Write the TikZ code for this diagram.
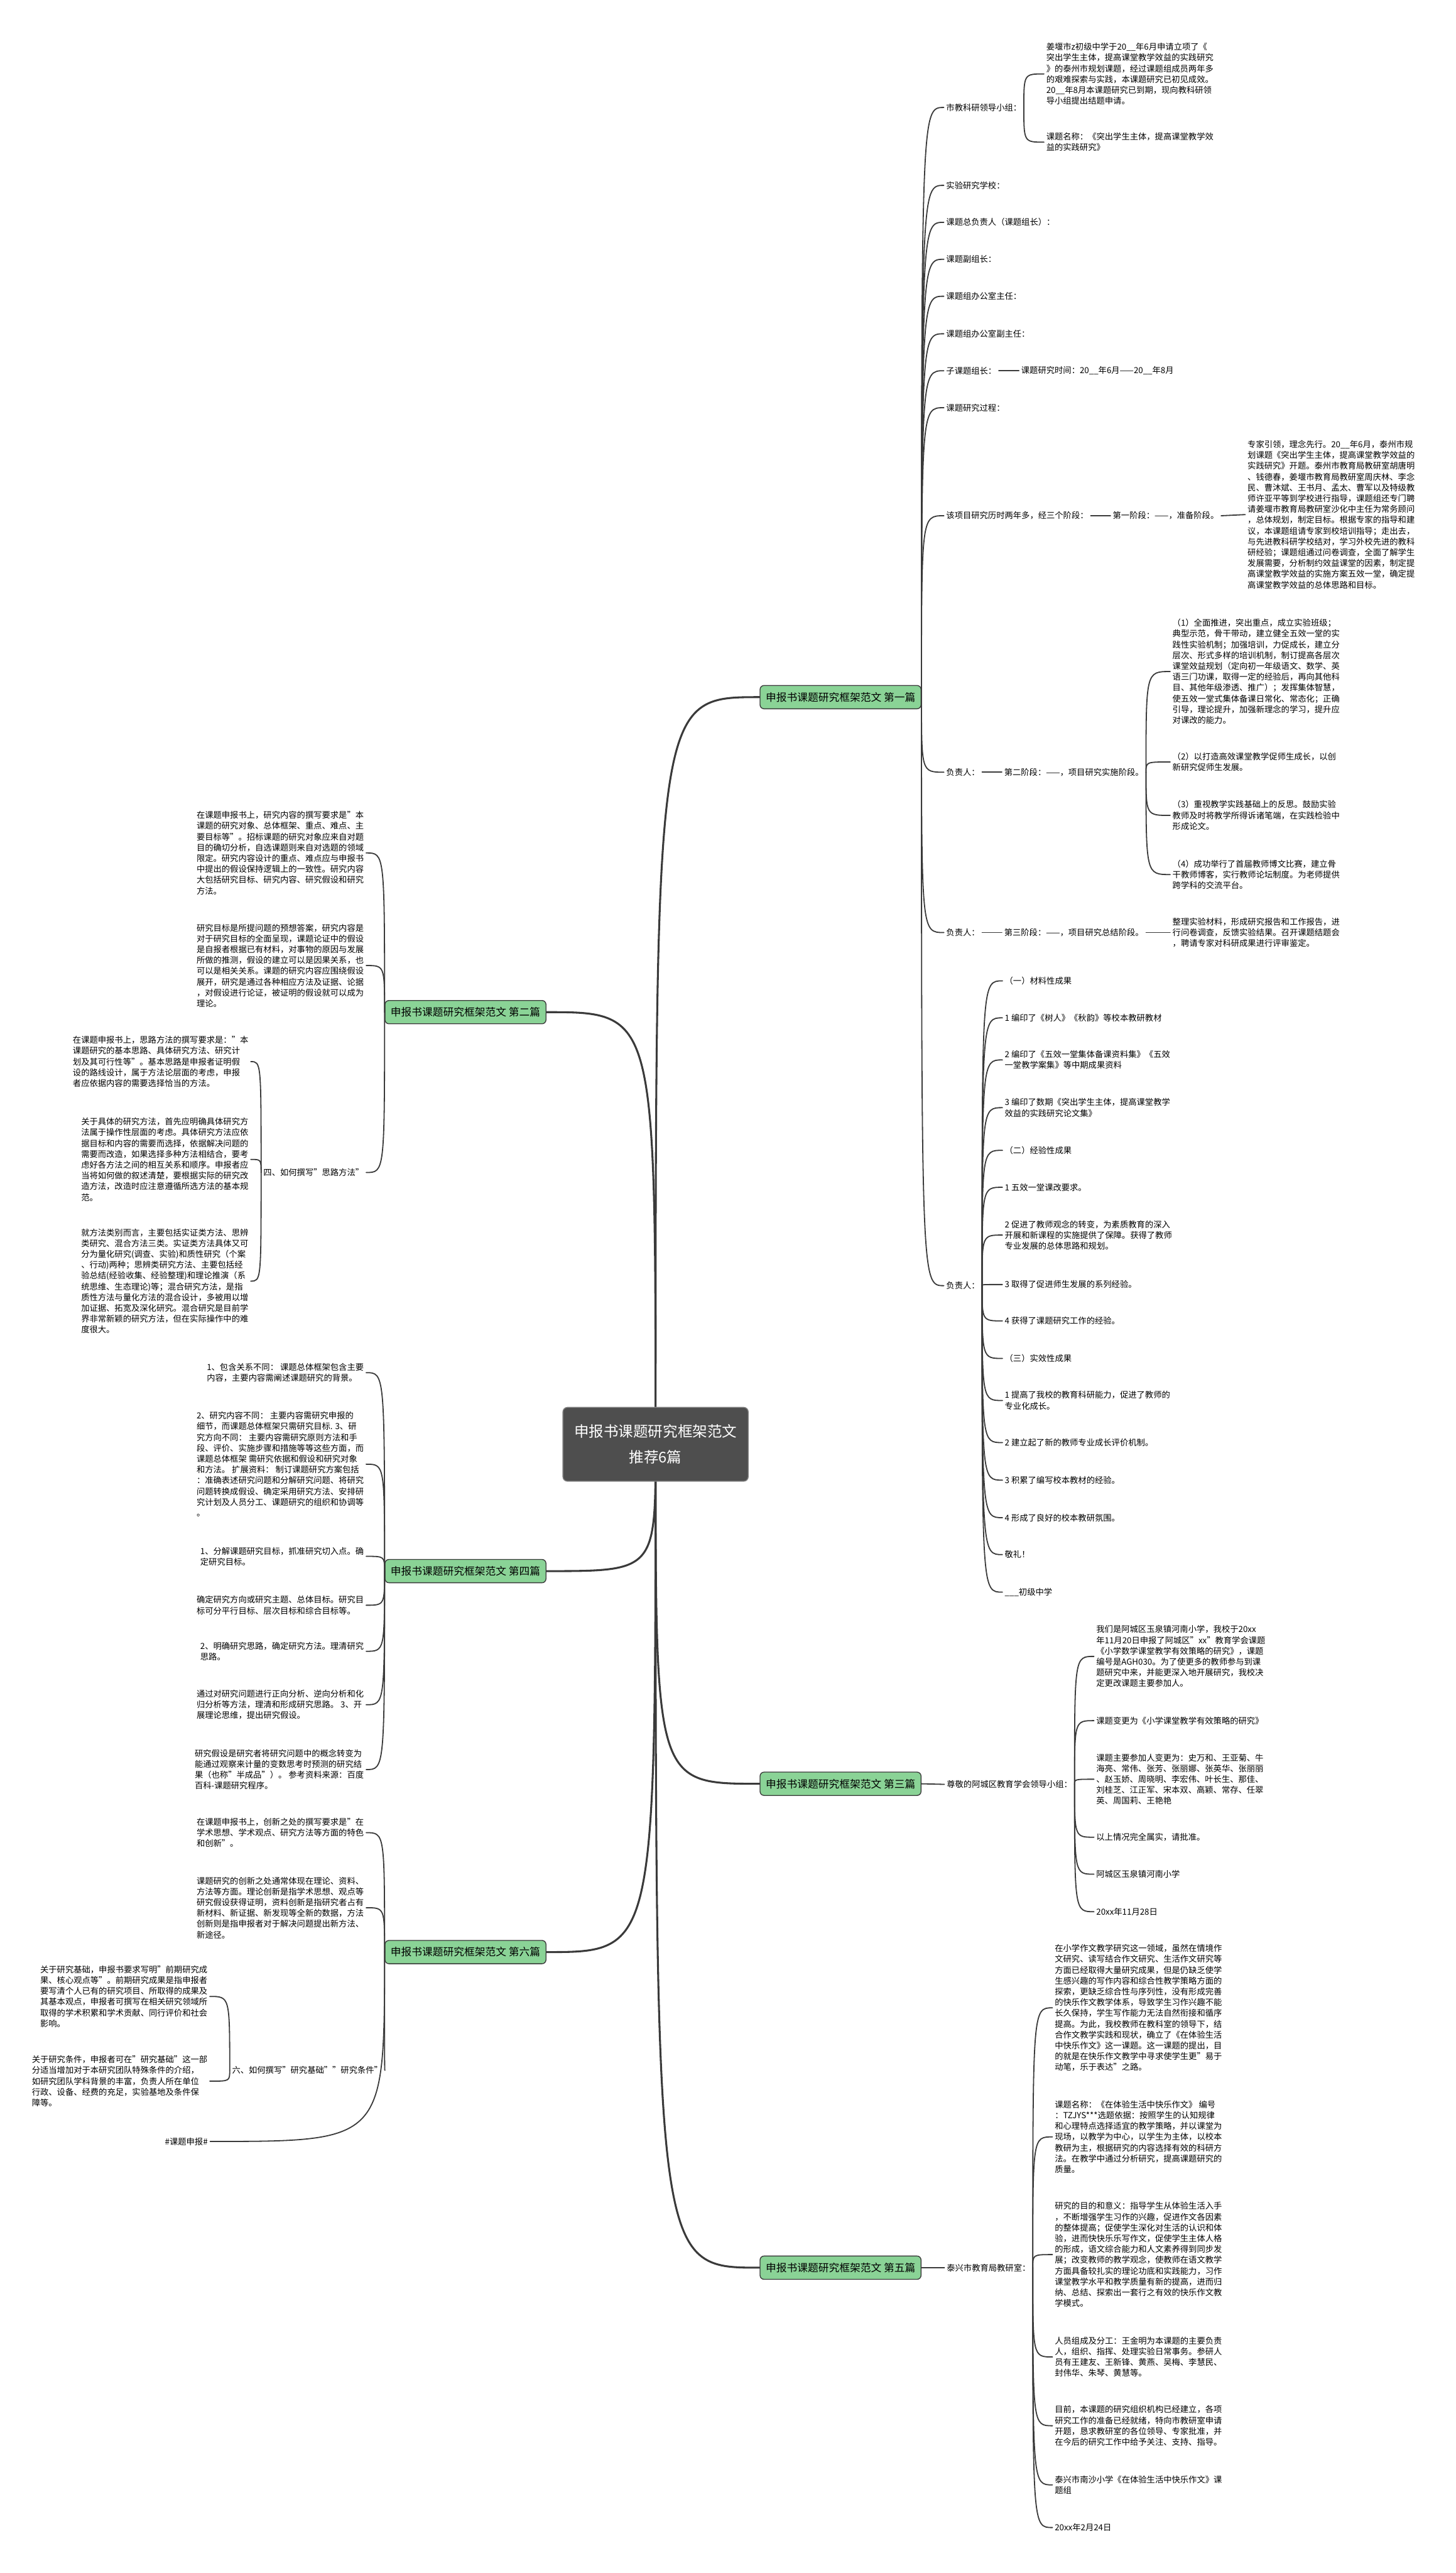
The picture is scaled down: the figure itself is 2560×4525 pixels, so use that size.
\documentclass[tikz,border=0pt]{standalone}
\usepackage{fontspec}
\setmainfont{Noto Sans CJK SC}
\usetikzlibrary{backgrounds}
\definecolor{linegray}{HTML}{3A3A3A}
\definecolor{rootgray}{HTML}{4E4E4E}
\definecolor{leafgreen}{HTML}{8AD396}

\begin{document}
\begin{tikzpicture}[x=1pt, y=-1pt,
    txt/.style={inner xsep=4pt, inner ysep=1pt, align=left, font=\fontsize{14.7}{19}\selectfont},
    branch/.style={draw=linegray, line width=1.5pt, fill=leafgreen, rounded corners=7pt, minimum height=41pt, inner xsep=10pt, font=\fontsize{18.5}{22}\selectfont},
    rootbox/.style={draw=rootgray!70!white, line width=1.5pt, fill=rootgray, text=white, rounded corners=8pt, minimum width=326pt, minimum height=130pt, align=center, font=\fontsize{26}{45}\selectfont},
    mainlink/.style={draw=linegray, line width=3.4pt, line cap=round},
    sublink/.style={draw=linegray, line width=2pt, line cap=round},
    curve/.style={to path={.. controls (\tikztotarget -| \tikztostart) .. (\tikztotarget)}}]
    \useasboundingbox (0,0) rectangle (2560,4525);

    \node (root) [rootbox] at (1153,2540) {申报书课题研究框架范文\\推荐6篇};

    \node (p1) [branch, anchor=west] at (1336,1226) {申报书课题研究框架范文 第一篇};
    \node (p1a) [txt, anchor=west] at (1660,189) {市教科研领导小组：};
    \node (p1a1) [txt, anchor=west] at (1836,130) {姜堰市z初级中学于20\_\_年6月申请立项了《\\突出学生主体，提高课堂教学效益的实践研究\\》的泰州市规划课题，经过课题组成员两年多\\的艰难探索与实践，本课题研究已初见成效。\\20\_\_年8月本课题研究已到期，现向教科研领\\导小组提出结题申请。};
    \node (p1a2) [txt, anchor=west] at (1836,250) {课题名称：《突出学生主体，提高课堂教学效\\益的实践研究》};
    \node (p1b) [txt, anchor=west] at (1660,326) {实验研究学校：};
    \node (p1c) [txt, anchor=west] at (1660,391) {课题总负责人（课题组长）：};
    \node (p1d) [txt, anchor=west] at (1660,456) {课题副组长：};
    \node (p1e) [txt, anchor=west] at (1660,521) {课题组办公室主任：};
    \node (p1f) [txt, anchor=west] at (1660,587) {课题组办公室副主任：};
    \node (p1g) [txt, anchor=west] at (1660,652) {子课题组长：};
    \node (p1g1) [txt, anchor=west] at (1792,652) {课题研究时间：20\_\_年6月——20\_\_年8月};
    \node (p1h) [txt, anchor=west] at (1660,717) {课题研究过程：};
    \node (p1i) [txt, anchor=west] at (1660,907) {该项目研究历时两年多，经三个阶段：};
    \node (p1i1) [txt, anchor=west] at (1953,907) {第一阶段：——，准备阶段。};
    \node (p1i2) [txt, anchor=west] at (2190,905) {专家引领，理念先行。20\_\_年6月，泰州市规\\划课题《突出学生主体，提高课堂教学效益的\\实践研究》开题。泰州市教育局教研室胡唐明\\、钱德春，姜堰市教育局教研室周庆林、李念\\民、曹沐斌、王书月、孟太、曹军以及特级教\\师许亚平等到学校进行指导，课题组还专门聘\\请姜堰市教育局教研室沙化中主任为常务顾问\\，总体规划，制定目标。根据专家的指导和建\\议，本课题组请专家到校培训指导；走出去，\\与先进教科研学校结对，学习外校先进的教科\\研经验；课题组通过问卷调查，全面了解学生\\发展需要，分析制约效益课堂的因素，制定提\\高课堂教学效益的实施方案五效一堂，确定提\\高课堂教学效益的总体思路和目标。};
    \node (p1j) [txt, anchor=west] at (1660,1358) {负责人：};
    \node (p1j1) [txt, anchor=west] at (1762,1358) {第二阶段：——，项目研究实施阶段。};
    \node (p1j2) [txt, anchor=west] at (2058,1181) {（1）全面推进，突出重点，成立实验班级；\\典型示范，骨干带动，建立健全五效一堂的实\\践性实验机制；加强培训，力促成长，建立分\\层次、形式多样的培训机制，制订提高各层次\\课堂效益规划（定向初一年级语文、数学、英\\语三门功课，取得一定的经验后，再向其他科\\目、其他年级渗透、推广）；发挥集体智慧，\\使五效一堂式集体备课日常化、常态化；正确\\引导，理论提升，加强新理念的学习，提升应\\对课改的能力。};
    \node (p1j3) [txt, anchor=west] at (2058,1340) {（2）以打造高效课堂教学促师生成长，以创\\新研究促师生发展。};
    \node (p1j4) [txt, anchor=west] at (2058,1434) {（3）重视教学实践基础上的反思。鼓励实验\\教师及时将教学所得诉诸笔端，在实践检验中\\形成论文。};
    \node (p1j5) [txt, anchor=west] at (2058,1538) {（4）成功举行了首届教师博文比赛，建立骨\\干教师博客，实行教师论坛制度。为老师提供\\跨学科的交流平台。};
    \node (p1k) [txt, anchor=west] at (1660,1640) {负责人：};
    \node (p1k1) [txt, anchor=west] at (1762,1640) {第三阶段：——，项目研究总结阶段。};
    \node (p1k2) [txt, anchor=west] at (2058,1640) {整理实验材料，形成研究报告和工作报告，进\\行问卷调查，反馈实验结果。召开课题结题会\\，聘请专家对科研成果进行评审鉴定。};
    \node (p1l) [txt, anchor=west] at (1660,2261) {负责人：};
    \node (r1) [txt, anchor=west] at (1763,1725) {（一）材料性成果};
    \node (r2) [txt, anchor=west] at (1763,1790) {1 编印了《树人》《秋韵》等校本教研教材};
    \node (r3) [txt, anchor=west] at (1763,1864) {2 编印了《五效一堂集体备课资料集》《五效\\一堂教学案集》等中期成果资料};
    \node (r4) [txt, anchor=west] at (1763,1948) {3 编印了数期《突出学生主体，提高课堂教学\\效益的实践研究论文集》};
    \node (r5) [txt, anchor=west] at (1763,2023) {（二）经验性成果};
    \node (r6) [txt, anchor=west] at (1763,2088) {1 五效一堂课改要求。};
    \node (r7) [txt, anchor=west] at (1763,2172) {2 促进了教师观念的转变，为素质教育的深入\\开展和新课程的实施提供了保障。获得了教师\\专业发展的总体思路和规划。};
    \node (r8) [txt, anchor=west] at (1763,2259) {3 取得了促进师生发展的系列经验。};
    \node (r9) [txt, anchor=west] at (1763,2323) {4 获得了课题研究工作的经验。};
    \node (r10) [txt, anchor=west] at (1763,2389) {（三）实效性成果};
    \node (r11) [txt, anchor=west] at (1763,2463) {1 提高了我校的教育科研能力，促进了教师的\\专业化成长。};
    \node (r12) [txt, anchor=west] at (1763,2537) {2 建立起了新的教师专业成长评价机制。};
    \node (r13) [txt, anchor=west] at (1763,2603) {3 积累了编写校本教材的经验。};
    \node (r14) [txt, anchor=west] at (1763,2669) {4 形成了良好的校本教研氛围。};
    \node (r15) [txt, anchor=west] at (1763,2734) {敬礼！};
    \node (r16) [txt, anchor=west] at (1763,2800) {\_\_\_初级中学};

    \node (p3) [branch, anchor=west] at (1336,3137) {申报书课题研究框架范文 第三篇};
    \node (p3a) [txt, anchor=west] at (1661,3138) {尊敬的阿城区教育学会领导小组：};
    \node (p3b) [txt, anchor=west] at (1924,2913) {我们是阿城区玉泉镇河南小学，我校于20xx\\年11月20日申报了阿城区"xx"教育学会课题\\《小学数学课堂教学有效策略的研究》，课题\\编号是AGH030。为了使更多的教师参与到课\\题研究中来，并能更深入地开展研究，我校决\\定更改课题主要参加人。};
    \node (p3c) [txt, anchor=west] at (1924,3026) {课题变更为《小学课堂教学有效策略的研究》};
    \node (p3d) [txt, anchor=west] at (1924,3129) {课题主要参加人变更为：史万和、王亚菊、牛\\海亮、常伟、张芳、张丽娜、张英华、张丽丽\\、赵玉娇、周晓明、李宏伟、叶长生、那佳、\\刘桂芝、江正军、宋本双、高颖、常存、任翠\\英、周国莉、王艳艳};
    \node (p3e) [txt, anchor=west] at (1924,3231) {以上情况完全属实，请批准。};
    \node (p3f) [txt, anchor=west] at (1924,3296) {阿城区玉泉镇河南小学};
    \node (p3g) [txt, anchor=west] at (1924,3362) {20xx年11月28日};

    \node (p5) [branch, anchor=west] at (1336,3988) {申报书课题研究框架范文 第五篇};
    \node (p5a) [txt, anchor=west] at (1661,3988) {泰兴市教育局教研室：};
    \node (p5b) [txt, anchor=west] at (1851,3531) {在小学作文教学研究这一领域，虽然在情境作\\文研究、读写结合作文研究、生活作文研究等\\方面已经取得大量研究成果，但是仍缺乏使学\\生感兴趣的写作内容和综合性教学策略方面的\\探索，更缺乏综合性与序列性，没有形成完善\\的快乐作文教学体系，导致学生习作兴趣不能\\长久保持，学生写作能力无法自然衔接和循序\\提高。为此，我校教师在教科室的领导下，结\\合作文教学实践和现状，确立了《在体验生活\\中快乐作文》这一课题。这一课题的提出，目\\的就是在快乐作文教学中寻求使学生更"易于\\动笔，乐于表达"之路。};
    \node (p5c) [txt, anchor=west] at (1851,3758) {课题名称：《在体验生活中快乐作文》 编号\\：TZJYS***选题依据：按照学生的认知规律\\和心理特点选择适宜的教学策略，并以课堂为\\现场，以教学为中心，以学生为主体，以校本\\教研为主，根据研究的内容选择有效的科研方\\法。在教学中通过分析研究，提高课题研究的\\质量。};
    \node (p5d) [txt, anchor=west] at (1851,3965) {研究的目的和意义：指导学生从体验生活入手\\，不断增强学生习作的兴趣，促进作文各因素\\的整体提高；促使学生深化对生活的认识和体\\验，进而快快乐乐写作文，促使学生主体人格\\的形成，语文综合能力和人文素养得到同步发\\展；改变教师的教学观念，使教师在语文教学\\方面具备较扎实的理论功底和实践能力，习作\\课堂教学水平和教学质量有新的提高，进而归\\纳、总结、探索出一套行之有效的快乐作文教\\学模式。};
    \node (p5e) [txt, anchor=west] at (1851,4145) {人员组成及分工：王金明为本课题的主要负责\\人，组织、指挥、处理实验日常事务。参研人\\员有王建友、王新锋、黄燕、吴梅、李慧民、\\封伟华、朱琴、黄慧等。};
    \node (p5f) [txt, anchor=west] at (1851,4266) {目前，本课题的研究组织机构已经建立，各项\\研究工作的准备已经就绪，特向市教研室申请\\开题，恳求教研室的各位领导、专家批准，并\\在今后的研究工作中给予关注、支持、指导。};
    \node (p5g) [txt, anchor=west] at (1851,4370) {泰兴市南沙小学《在体验生活中快乐作文》课\\题组};
    \node (p5h) [txt, anchor=west] at (1851,4445) {20xx年2月24日};

    \node (p2) [branch, anchor=east] at (961,1780) {申报书课题研究框架范文 第二篇};
    \node (p2a) [txt, anchor=east] at (644,1500) {在课题申报书上，研究内容的撰写要求是"本\\课题的研究对象、总体框架、重点、难点、主\\要目标等"。招标课题的研究对象应来自对题\\目的确切分析，自选课题则来自对选题的领域\\限定。研究内容设计的重点、难点应与申报书\\中提出的假设保持逻辑上的一致性。研究内容\\大包括研究目标、研究内容、研究假设和研究\\方法。};
    \node (p2b) [txt, anchor=east] at (644,1698) {研究目标是所提问题的预想答案，研究内容是\\对于研究目标的全面呈现，课题论证中的假设\\是自报者根据已有材料，对事物的原因与发展\\所做的推测，假设的建立可以是因果关系，也\\可以是相关关系。课题的研究内容应围绕假设\\展开，研究是通过各种相应方法及证据、论据\\，对假设进行论证，被证明的假设就可以成为\\理论。};
    \node (p2c) [txt, anchor=east] at (644,2062) {四、如何撰写"思路方法"};
    \node (p2c1) [txt, anchor=east] at (441,1867) {在课题申报书上，思路方法的撰写要求是："本\\课题研究的基本思路、具体研究方法、研究计\\划及其可行性等"。基本思路是申报者证明假\\设的路线设计，属于方法论层面的考虑，申报\\者应依据内容的需要选择恰当的方法。};
    \node (p2c2) [txt, anchor=east] at (441,2039) {关于具体的研究方法，首先应明确具体研究方\\法属于操作性层面的考虑。具体研究方法应依\\据目标和内容的需要而选择，依据解决问题的\\需要而改造，如果选择多种方法相结合，要考\\虑好各方法之间的相互关系和顺序。申报者应\\当将如何做的叙述清楚，要根据实际的研究改\\造方法，改造时应注意遵循所选方法的基本规\\范。};
    \node (p2c3) [txt, anchor=east] at (441,2253) {就方法类别而言，主要包括实证类方法、思辨\\类研究、混合方法三类。实证类方法具体又可\\分为量化研究(调查、实验)和质性研究（个案\\、行动)两种；思辨类研究方法、主要包括经\\验总结(经验收集、经验整理)和理论推演（系\\统思维、生态理论)等；混合研究方法，是指\\质性方法与量化方法的混合设计，多被用以增\\加证据、拓宽及深化研究。混合研究是目前学\\界非常新颖的研究方法，但在实际操作中的难\\度很大。};

    \node (p4) [branch, anchor=east] at (961,2763) {申报书课题研究框架范文 第四篇};
    \node (p4a) [txt, anchor=east] at (644,2414) {1、包含关系不同： 课题总体框架包含主要\\内容，主要内容需阐述课题研究的背景。};
    \node (p4b) [txt, anchor=east] at (644,2575) {2、研究内容不同： 主要内容需研究申报的\\细节，而课题总体框架只需研究目标. 3、研\\究方向不同： 主要内容需研究原则方法和手\\段、评价、实施步骤和措施等等这些方面，而\\课题总体框架 需研究依据和假设和研究对象\\和方法。 扩展资料： 制订课题研究方案包括\\：准确表述研究问题和分解研究问题、将研究\\问题转换成假设、确定采用研究方法、安排研\\究计划及人员分工、课题研究的组织和协调等\\。};
    \node (p4c) [txt, anchor=east] at (644,2737) {1、分解课题研究目标，抓准研究切入点。确\\定研究目标。};
    \node (p4d) [txt, anchor=east] at (644,2823) {确定研究方向或研究主题、总体目标。研究目\\标可分平行目标、层次目标和综合目标等。};
    \node (p4e) [txt, anchor=east] at (644,2904) {2、明确研究思路，确定研究方法。理清研究\\思路。};
    \node (p4f) [txt, anchor=east] at (644,2998) {通过对研究问题进行正向分析、逆向分析和化\\归分析等方法，理清和形成研究思路。 3、开\\展理论思维，提出研究假设。};
    \node (p4g) [txt, anchor=east] at (644,3112) {研究假设是研究者将研究问题中的概念转变为\\能通过观察来计量的变数思考时预测的研究结\\果（也称"半成品"）。 参考资料来源：百度\\百科-课题研究程序。};

    \node (p6) [branch, anchor=east] at (961,3433) {申报书课题研究框架范文 第六篇};
    \node (p6a) [txt, anchor=east] at (644,3223) {在课题申报书上，创新之处的撰写要求是"在\\学术思想、学术观点、研究方法等方面的特色\\和创新"。};
    \node (p6b) [txt, anchor=east] at (644,3355) {课题研究的创新之处通常体现在理论、资料、\\方法等方面。理论创新是指学术思想、观点等\\研究假设获得证明，资料创新是指研究者占有\\新材料、新证据、新发现等全新的数据，方法\\创新则是指申报者对于解决问题提出新方法、\\新途径。};
    \node (p6c) [txt, anchor=west] at (404,3641) {六、如何撰写"研究基础""研究条件"};
    \node (p6c1) [txt, anchor=east] at (369,3511) {关于研究基础，申报书要求写明"前期研究成\\果、核心观点等"。前期研究成果是指申报者\\要写清个人已有的研究项目、所取得的成果及\\其基本观点，申报者可撰写在相关研究领域所\\取得的学术积累和学术贡献、同行评价和社会\\影响。};
    \node (p6c2) [txt, anchor=east] at (369,3660) {关于研究条件，申报者可在"研究基础"这一部\\分适当增加对于本研究团队特殊条件的介绍，\\如研究团队学科背景的丰富，负责人所在单位\\行政、设备、经费的充足，实验基地及条件保\\障等。};
    \node (p6d) [txt, anchor=west] at (286,3766) {\#课题申报\#};

    \begin{pgfonlayer}{background}
    \fill [white] (0,0) rectangle (2560,4525);
    \draw [mainlink] (root.center) to[curve] (p1.west);
    \draw [mainlink] (root.center) to[curve] (p3.west);
    \draw [mainlink] (root.center) to[curve] (p5.west);
    \draw [mainlink] (root.center) to[curve] (p2.east);
    \draw [mainlink] (root.center) to[curve] (p4.east);
    \draw [mainlink] (root.center) to[curve] (p6.east);
    \end{pgfonlayer}

    \draw [sublink] (p1.east) to[curve] (p1a.west);
    \draw [sublink] (p1.east) to[curve] (p1b.west);
    \draw [sublink] (p1.east) to[curve] (p1c.west);
    \draw [sublink] (p1.east) to[curve] (p1d.west);
    \draw [sublink] (p1.east) to[curve] (p1e.west);
    \draw [sublink] (p1.east) to[curve] (p1f.west);
    \draw [sublink] (p1.east) to[curve] (p1g.west);
    \draw [sublink] (p1.east) to[curve] (p1h.west);
    \draw [sublink] (p1.east) to[curve] (p1i.west);
    \draw [sublink] (p1.east) to[curve] (p1j.west);
    \draw [sublink] (p1.east) to[curve] (p1k.west);
    \draw [sublink] (p1.east) to[curve] (p1l.west);
    \draw [sublink] (p1a.east) to[curve] (p1a1.west);
    \draw [sublink] (p1a.east) to[curve] (p1a2.west);
    \draw [sublink] (p1g.east) -- (p1g1.west);
    \draw [sublink] (p1i.east) -- (p1i1.west);
    \draw [sublink] (p1i1.east) -- (p1i2.west);
    \draw [sublink] (p1j.east) -- (p1j1.west);
    \draw [sublink] (p1j1.east) to[curve] (p1j2.west);
    \draw [sublink] (p1j1.east) to[curve] (p1j3.west);
    \draw [sublink] (p1j1.east) to[curve] (p1j4.west);
    \draw [sublink] (p1j1.east) to[curve] (p1j5.west);
    \draw [sublink] (p1k.east) -- (p1k1.west);
    \draw [sublink] (p1k1.east) -- (p1k2.west);
    \draw [sublink] (p1l.east) to[curve] (r1.west);
    \draw [sublink] (p1l.east) to[curve] (r2.west);
    \draw [sublink] (p1l.east) to[curve] (r3.west);
    \draw [sublink] (p1l.east) to[curve] (r4.west);
    \draw [sublink] (p1l.east) to[curve] (r5.west);
    \draw [sublink] (p1l.east) to[curve] (r6.west);
    \draw [sublink] (p1l.east) to[curve] (r7.west);
    \draw [sublink] (p1l.east) to[curve] (r8.west);
    \draw [sublink] (p1l.east) to[curve] (r9.west);
    \draw [sublink] (p1l.east) to[curve] (r10.west);
    \draw [sublink] (p1l.east) to[curve] (r11.west);
    \draw [sublink] (p1l.east) to[curve] (r12.west);
    \draw [sublink] (p1l.east) to[curve] (r13.west);
    \draw [sublink] (p1l.east) to[curve] (r14.west);
    \draw [sublink] (p1l.east) to[curve] (r15.west);
    \draw [sublink] (p1l.east) to[curve] (r16.west);

    \draw [sublink] (p3.east) -- (p3a.west);
    \draw [sublink] (p3a.east) to[curve] (p3b.west);
    \draw [sublink] (p3a.east) to[curve] (p3c.west);
    \draw [sublink] (p3a.east) to[curve] (p3d.west);
    \draw [sublink] (p3a.east) to[curve] (p3e.west);
    \draw [sublink] (p3a.east) to[curve] (p3f.west);
    \draw [sublink] (p3a.east) to[curve] (p3g.west);

    \draw [sublink] (p5.east) -- (p5a.west);
    \draw [sublink] (p5a.east) to[curve] (p5b.west);
    \draw [sublink] (p5a.east) to[curve] (p5c.west);
    \draw [sublink] (p5a.east) to[curve] (p5d.west);
    \draw [sublink] (p5a.east) to[curve] (p5e.west);
    \draw [sublink] (p5a.east) to[curve] (p5f.west);
    \draw [sublink] (p5a.east) to[curve] (p5g.west);
    \draw [sublink] (p5a.east) to[curve] (p5h.west);

    \draw [sublink] (p2.west) to[curve] (p2a.east);
    \draw [sublink] (p2.west) to[curve] (p2b.east);
    \draw [sublink] (p2.west) to[curve] (p2c.east);
    \draw [sublink] (p2c.west) to[curve] (p2c1.east);
    \draw [sublink] (p2c.west) to[curve] (p2c2.east);
    \draw [sublink] (p2c.west) to[curve] (p2c3.east);

    \draw [sublink] (p4.west) to[curve] (p4a.east);
    \draw [sublink] (p4.west) to[curve] (p4b.east);
    \draw [sublink] (p4.west) to[curve] (p4c.east);
    \draw [sublink] (p4.west) to[curve] (p4d.east);
    \draw [sublink] (p4.west) to[curve] (p4e.east);
    \draw [sublink] (p4.west) to[curve] (p4f.east);
    \draw [sublink] (p4.west) to[curve] (p4g.east);

    \draw [sublink] (p6.west) to[curve] (p6a.east);
    \draw [sublink] (p6.west) to[curve] (p6b.east);
    \draw [sublink] (p6.west) to[curve] (p6c.east);
    \draw [sublink] (p6.west) to[curve] (p6d.east);
    \draw [sublink] (p6c.west) to[curve] (p6c1.east);
    \draw [sublink] (p6c.west) to[curve] (p6c2.east);
  \end{tikzpicture}
\end{document}
